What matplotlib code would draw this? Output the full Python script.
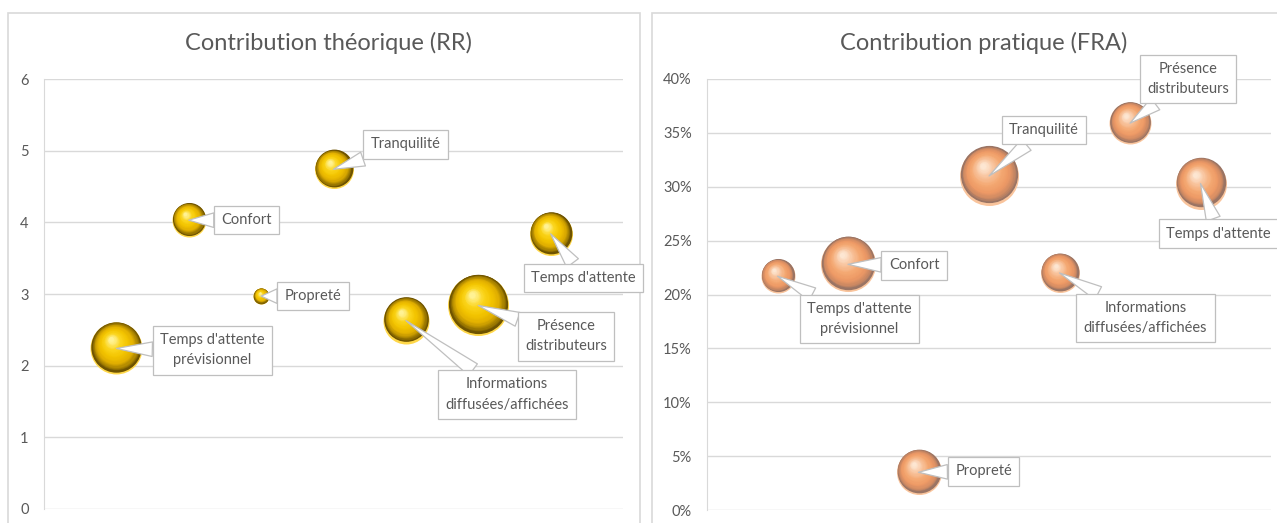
"""Bubble charts: theoretical vs practical contribution of each service criterion."""

import numpy as np
import matplotlib
matplotlib.use("Agg")
import matplotlib.pyplot as plt
from matplotlib.colors import LinearSegmentedColormap
from matplotlib.patches import Rectangle
from matplotlib.ticker import PercentFormatter
from matplotlib.transforms import ScaledTranslation

plt.rcParams['font.family'] = ['Lato', 'DejaVu Sans']

criteria = ["Temps d'attente\nprévisionnel", "Confort", "Propreté", "Tranquilité",
            "Informations\ndiffusées/affichées", "Présence\ndistributeurs", "Temps d'attente"]
positions = [1, 2, 3, 4, 5, 6, 7]

# Contribution théorique (RR)
rr_values = [2.24, 4.03, 2.97, 4.74, 2.63, 2.84, 3.84]
rr_sizes = [27.0, 11.6, 2.6, 15.2, 21.2, 37.2, 18.5]

# Contribution pratique (FRA)
fra_values = [0.217, 0.228, 0.035, 0.310, 0.220, 0.359, 0.303]
fra_sizes = [11.6, 30.3, 20.3, 34.8, 15.2, 17.6, 26.0]

# label box offsets from the bubble centre, in pixels
rr_offsets = [(96, -2), (58, 0), (52, 0), (72, 25), (101, -74), (88, -31), (33, -44)]
fra_offsets = [(82, -43), (66, -1), (65, 1), (55, 46), (86, -45), (58, 44), (18, -50)]

gold = ["#6e5300", "#a88200", "#e2b000", "#f3c400", "#fbd51c", "#fff294"]
gold_rim = "#ffd84a"
copper = ["#9a7464", "#cf8a62", "#ee9a66", "#f4a872", "#f8c29a", "#fde6d2"]
copper_rim = "#f9c49c"

GRID = "#d9d9d9"
TEXT = "#595959"

fig = plt.figure(figsize=(12.77, 5.23), dpi=100)
px = 72 / fig.dpi


def draw_bubble(ax, x, y, size, stops, rim, n=30):
    d = 10 * np.sqrt(size) * px  # diameter in points
    cmap = LinearSegmentedColormap.from_list("shade", stops)
    ax.scatter([x], [y], s=d ** 2, color=rim, lw=0, zorder=3)
    up = ScaledTranslation(0, 0.03 * d / 72, fig.dpi_scale_trans)
    ax.scatter([x], [y], s=(d * 0.97) ** 2, color=stops[0], lw=0, zorder=3,
               transform=ax.transData + up)
    for t in np.linspace(0, 1, n):
        di = d * 0.94 * (1 - 0.9 * t)
        off = ScaledTranslation(-0.2 * d / 2 * t / 72, (0.035 * d + 0.28 * d / 2 * t) / 72,
                                fig.dpi_scale_trans)
        ax.scatter([x], [y], s=di ** 2, color=cmap(t ** 0.7), lw=0, zorder=3,
                   transform=ax.transData + off)


def panel(rect, title, values, sizes, offsets, stops, rim, ymax, step, pct=False):
    ax = fig.add_axes(rect)
    ax.set_xlim(0, 8)
    ax.set_ylim(0, ymax)
    ax.set_yticks(np.arange(0, ymax + step / 2, step))
    if pct:
        ax.yaxis.set_major_formatter(PercentFormatter(1.0, decimals=0))
    ax.set_xticks([])
    ax.grid(axis="y", color=GRID, lw=1)
    ax.set_axisbelow(True)
    for s in ["top", "right", "bottom"]:
        ax.spines[s].set_visible(False)
    ax.spines["left"].set_color(GRID)
    ax.tick_params(axis="y", length=0, pad=11, labelsize=10.5, labelcolor=TEXT)
    ax.set_facecolor("none")

    for x, y, s in zip(positions, values, sizes):
        draw_bubble(ax, x, y, s, stops, rim)

    for x, y, lab, (dx, dy) in zip(positions, values, criteria, offsets):
        ax.annotate(lab, xy=(x, y), xytext=(dx, dy), textcoords="offset pixels",
                    ha="center", va="center", fontsize=10.5, color=TEXT,
                    linespacing=1.55, zorder=5, annotation_clip=False,
                    bbox=dict(boxstyle="square,pad=0.5", fc="white", ec="#bfbfbf", lw=0.9),
                    arrowprops=dict(arrowstyle="wedge,tail_width=1.0,shrink_factor=0.5",
                                    fc="white", ec="#bfbfbf", lw=0.9,
                                    shrinkA=0, shrinkB=0))
    fig.text(rect[0] + rect[2] / 2 - 0.004, 0.918, title, ha="center", va="center",
             fontsize=17, color=TEXT)
    return ax


# chart frames
for left, width in [(8, 632), (652, 640)]:
    fig.patches.append(Rectangle((left / 1277, -0.01), width / 1277, 1 - 13 / 523 + 0.01,
                                 transform=fig.transFigure, fc="white", ec=GRID, lw=1.2,
                                 zorder=-1))

panel([44 / 1277, 14 / 523, 579 / 1277, 430 / 523], "Contribution théorique (RR)",
      rr_values, rr_sizes, rr_offsets, gold, gold_rim, 6, 1)
panel([707 / 1277, 13 / 523, 564 / 1277, 431 / 523], "Contribution pratique (FRA)",
      fra_values, fra_sizes, fra_offsets, copper, copper_rim, 0.40, 0.05, pct=True)

fig.savefig("out.png", dpi=100)
